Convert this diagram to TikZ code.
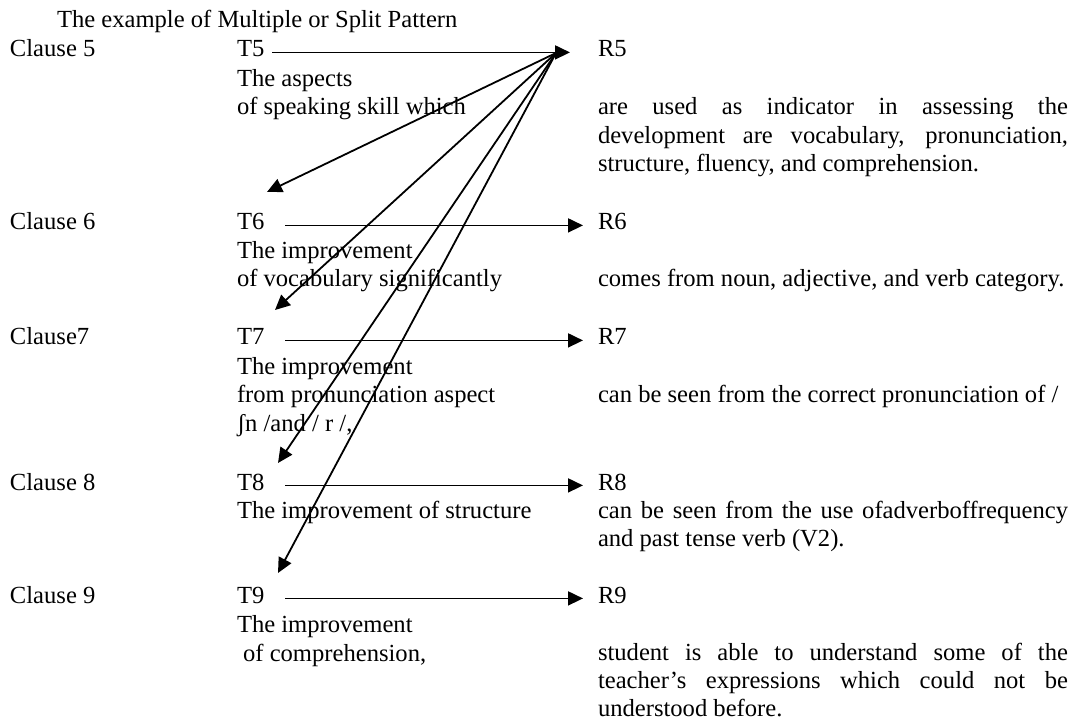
\documentclass[tikz,border=0pt]{standalone}
\usepackage{fontspec}
\setmainfont{Liberation Serif}
\usetikzlibrary{arrows.meta,positioning}

\tikzset{
  txt/.style={anchor=base west, inner sep=0pt, outer sep=0pt},
  block/.style={txt, align=left},
  para/.style={txt, text width=235pt, align=justify},
  link/.style={line width=0.9pt, -{Triangle[length=7.5pt,width=7pt]}},
}

\begin{document}
\begin{tikzpicture}[x=0.5pt,y=-0.5pt,
  every node/.append style={font=\fontsize{12.3pt}{14.2pt}\selectfont}]
\useasboundingbox (0,0) rectangle (1074,726);

\node[txt] (title) at (57,28) {The example of Multiple or Split Pattern};

% clause labels
\node[txt] (c5) at (10,57)  {Clause 5};
\node[txt] (c6) at (10,230) {Clause 6};
\node[txt] (c7) at (10,345) {Clause7};
\node[txt] (c8) at (10,490) {Clause 8};
\node[txt] (c9) at (10,603) {Clause 9};

% themes
\node[txt] (t5) at (237,57)  {T5};
\node[txt] (t6) at (237,230) {T6};
\node[txt] (t7) at (237,345) {T7};
\node[txt] (t8) at (237,490) {T8};
\node[txt] (t9) at (237,603) {T9};

% (block base = last line)
\node[block] (d5) at (237,115) {The aspects\\of speaking skill which};
\node[block] (d6) at (237,287) {The improvement\\of vocabulary significantly};
\node[block] (d7) at (237,431) {The improvement\\from pronunciation aspect\\ʃn /and / r /,};
\node[block] (d8) at (237,518) {The improvement of structure};
\node[block] (d9) at (237,661) {The improvement\\\ of comprehension,};

% rhemes
\node[txt] (r5) at (598,57)  {R5};
\node[txt] (r6) at (598,230) {R6};
\node[txt] (r7) at (598,345) {R7};
\node[txt] (r8) at (598,490) {R8};
\node[txt] (r9) at (598,603) {R9};

\node[para] (e5) at (598,115) {are used as indicator in assessing the\linebreak
  development are vocabulary, pronunciation,\linebreak
  structure, fluency, and comprehension.};
\node[txt] (e6) at (598,287) {comes from noun, adjective, and verb category.};
\node[txt] (e7) at (598,402) {can be seen from the correct pronunciation of /};
\node[para] (e8) at (598,518) {can be seen from the use ofadverboffrequency\linebreak
  and past tense verb (V2).};
\node[para] (e9) at (598,660) {student is able to understand some of the\linebreak
  teacher’s expressions which could not be\linebreak
  understood before.};

% T -> R
\draw[link, shorten <=4pt, shorten >=14pt] (t5.mid east) -- (r5.mid west);
\draw[link, shorten <=10.5pt, shorten >=7.5pt] (t6.mid east) -- (r6.mid west);
\draw[link, shorten <=10.5pt, shorten >=7.5pt] (t7.mid east) -- (r7.mid west);
\draw[link, shorten <=10.5pt, shorten >=7.5pt] (t8.mid east) -- (r8.mid west);
\draw[link, shorten <=10.5pt, shorten >=7.5pt] (t9.mid east) -- (r9.mid west);

% split from R5
\coordinate (hub) at (556,53);
\coordinate (t6tip) at (267,192);
\coordinate (t7tip) at (275,310);
\coordinate (t8tip) at (278,463);
\coordinate (t9tip) at (278,573);
\foreach \k in {6,...,9}
  \draw[link] (hub) -- (t\k tip);
\end{tikzpicture}
\end{document}
